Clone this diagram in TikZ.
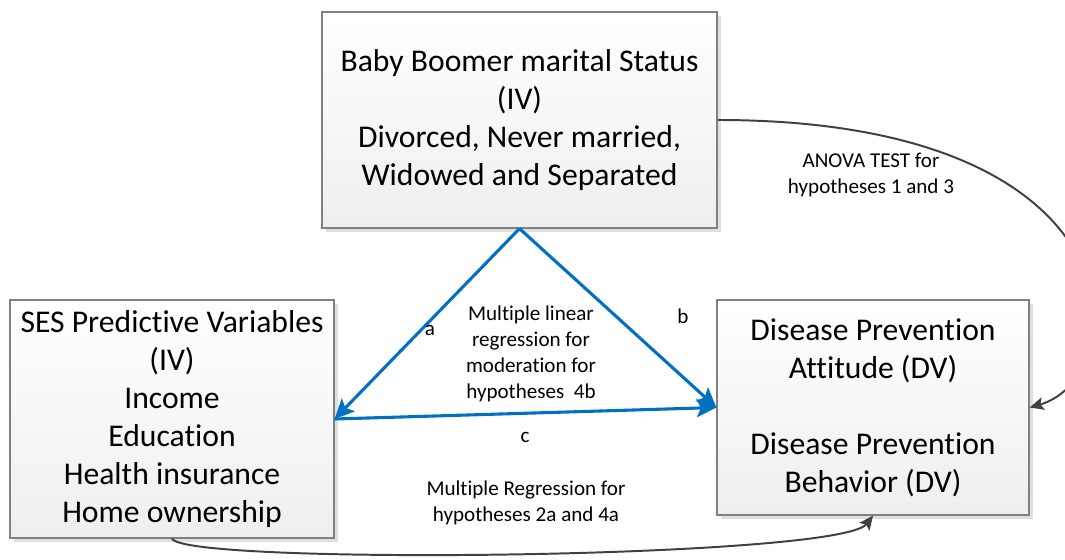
\documentclass[tikz,border=0pt]{standalone}
\usepackage{fontspec}
\setmainfont{Carlito}[Ligatures=NoCommon]
\usetikzlibrary{arrows.meta,shadows}

\definecolor{edgeblue}{RGB}{0,112,192}
\definecolor{curvegray}{RGB}{64,64,64}
\definecolor{boxline}{RGB}{128,128,128}

\begin{document}
\begin{tikzpicture}[x=0.025cm,y=-0.025cm,
    varbox/.style={draw=boxline,line width=0.8pt,top color=white,bottom color=gray!13,
      general shadow={fill=gray!25,shadow xshift=3pt,shadow yshift=-3pt},
      align=center,font=\fontsize{22.5pt}{27pt}\selectfont,inner sep=0pt},
    note/.style={align=center,font=\fontsize{15pt}{18.5pt}\selectfont},
    path/.style={draw=edgeblue,line width=2.2pt,-{Stealth[length=14pt,width=13pt,inset=3pt]}},
    test/.style={draw=curvegray,line width=1.4pt,-{Stealth[length=10pt,width=9pt,inset=2pt]}}]
    \useasboundingbox (0,0) rectangle (1065,559);
    % boxes
    \node[varbox,minimum width=9.875cm,minimum height=5.4cm] (marital) at (519.5,120)
        {Baby Boomer marital Status\\(IV)\\Divorced, Never married,\\Widowed and Separated};
    \node[varbox,minimum width=8.1cm,minimum height=5.95cm] (ses) at (172,419)
        {SES Predictive Variables\\(IV)\\Income\\Education\\Health insurance\\Home ownership};
    \node[varbox,minimum width=7.8cm,minimum height=5.375cm] (dv) at (873,407.5)
        {Disease Prevention\\Attitude (DV)\\[\baselineskip]Disease Prevention\\Behavior (DV)};
    % triangle
    \draw[path] (marital.south) -- (ses.east);
    \draw[path] (marital.south) -- (dv.west);
    \draw[path] (ses.east) -- (dv.west);
    \node[note] (la) at (430,330) {a};
    \node[note] (lb) at (683,316) {b};
    \node[note] (lc) at (525,437) {c};
    \node[note] (moder) at (531,354) {Multiple linear\\regression for\\moderation for\\hypotheses\ \ 4b};
    % tests
    \draw[test] (marital.east) .. controls +(430,0) and +(105,-30) .. (dv.east);
    \node[note] (anova) at (871,175) {ANOVA TEST for\\hypotheses 1 and 3};
    \draw[test] (ses.south) .. controls +(13,27) and +(-33,43) .. (dv.south);
    \node[note] (mreg) at (526,503) {Multiple Regression for\\hypotheses 2a and 4a};
\end{tikzpicture}
\end{document}
